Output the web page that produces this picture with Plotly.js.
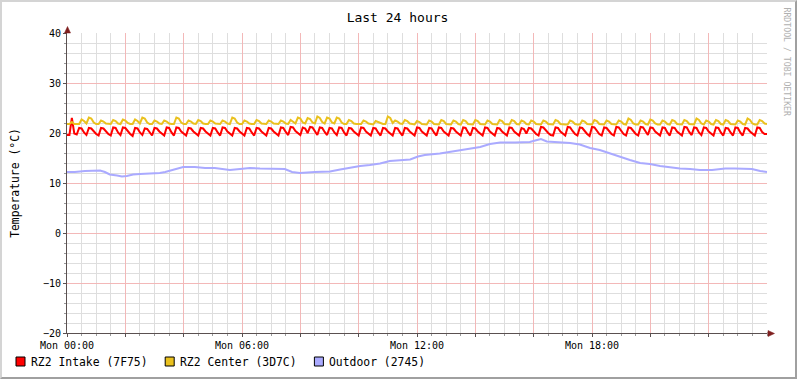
<!DOCTYPE html>
<html><head><meta charset="utf-8">
<script src="https://cdn.plot.ly/plotly-3.0.1.min.js"></script>
<style>
html,body{margin:0;padding:0;background:#fff;}
#frame{width:793px;height:375px;border-style:solid;border-width:2px;border-color:#d4d4d4 #a0a0a0 #a0a0a0 #d4d4d4;}
#chart{width:793px;height:375px;}
</style></head><body><div id="frame"><div id="chart"></div></div>
<script>
// ---- data: 5-minute samples from Mon 00:00, values in °C ----
const seriesNames = ["RZ2 Intake (7F75)", "RZ2 Center (3D7C)", "Outdoor (2745)"];
const seriesColors = ["#ff0000", "#eac11e", "#aaaaff"];
const xTickLabels = ["Mon 00:00", "Mon 06:00", "Mon 12:00", "Mon 18:00"];
const xTickMinutes = [0, 360, 720, 1080];
const sampleMinutes = 5;

const intake = [
 19.6,19.6,23.0,19.9,19.7,21.0,20.9,20.1,19.6,21.0,
 20.9,20.3,19.8,19.5,21.0,20.9,20.3,19.8,19.5,21.1,
 21.0,20.1,19.6,21.1,21.0,20.3,19.8,19.4,21.0,20.9,
 20.1,19.6,20.9,20.8,20.1,19.5,21.0,20.9,20.3,19.8,
 19.5,21.1,21.0,20.1,19.5,21.1,21.0,20.3,19.8,19.5,
 21.0,20.9,20.3,19.8,19.5,21.0,20.9,20.3,19.8,19.5,
 21.0,20.9,20.1,19.5,21.1,21.0,20.3,19.8,19.5,21.0,
 20.9,20.3,19.8,19.5,21.0,20.9,20.1,19.5,21.0,20.9,
 20.3,19.8,19.5,21.0,20.9,20.3,19.8,19.5,21.1,21.0,
 20.2,19.6,21.2,21.1,20.4,19.9,19.6,21.1,20.9,20.0,
 21.2,21.1,20.2,19.6,21.1,21.0,20.2,19.6,21.0,20.9,
 20.1,19.6,21.1,21.0,20.1,19.5,21.0,20.9,20.3,19.8,
 19.5,21.1,21.0,20.3,19.8,19.5,21.0,20.9,20.1,19.5,
 21.0,20.9,20.3,19.8,19.5,21.0,20.9,20.1,19.5,21.0,
 20.9,20.3,19.8,19.5,21.1,21.0,20.3,19.8,19.5,21.0,
 20.9,20.1,19.5,21.1,21.0,20.3,19.8,19.5,21.0,20.9,
 20.3,19.8,19.5,21.1,21.0,20.1,19.5,21.0,20.9,20.3,
 19.8,19.5,21.1,21.0,20.3,19.8,19.5,21.0,20.9,20.3,
 19.8,19.5,21.1,21.0,20.3,19.8,19.5,21.0,20.8,19.9,
 21.0,20.9,20.3,19.8,19.5,21.2,21.1,20.5,20.0,19.6,
 19.5,21.1,21.0,20.3,19.8,19.5,21.2,21.1,20.4,19.8,
 19.5,21.1,21.0,20.3,19.8,19.4,21.2,21.1,20.4,19.8,
 19.5,21.1,21.0,20.3,19.8,19.5,21.2,21.1,20.4,19.8,
 19.5,21.1,21.0,20.3,19.8,19.5,21.2,21.1,20.2,19.6,
 21.1,21.0,20.3,19.8,19.5,21.1,21.0,20.1,19.5,21.1,
 21.0,20.3,19.8,19.5,21.2,21.1,20.2,19.6,21.1,21.0,
 20.1,19.6,21.1,21.0,20.3,19.8,19.5,21.1,21.0,20.1,
 19.5,21.0,20.9,20.1,19.5,21.1,21.0,20.1,19.5,21.0,
 20.9,20.3,19.8,19.5,21.1,21.0,20.2,19.8,19.8];

const center = [
 21.8,21.8,22.2,21.8,21.8,21.8,22.7,22.4,21.9,23.1,
 22.9,22.1,21.8,21.8,22.5,22.3,21.9,21.8,21.8,22.6,
 22.4,21.9,21.8,22.7,22.5,22.0,21.8,21.8,22.7,22.4,
 21.9,23.1,22.9,22.1,21.8,21.8,22.5,22.3,21.9,21.8,
 22.5,22.3,21.9,21.8,21.8,23.1,22.9,22.1,21.8,21.8,
 22.5,22.3,21.9,21.8,22.6,22.4,21.9,21.8,21.8,22.5,
 22.3,21.9,21.8,21.8,22.5,22.3,21.9,21.8,23.1,22.9,
 22.1,21.8,21.8,22.5,22.3,21.9,21.8,21.8,22.6,22.4,
 21.9,21.8,21.8,22.5,22.3,21.9,21.8,21.8,22.5,22.3,
 21.9,21.8,22.6,22.3,21.9,23.1,22.9,22.1,21.9,23.0,
 22.8,22.1,21.9,23.3,23.0,22.2,21.9,23.1,22.9,22.1,
 21.9,23.1,22.9,22.1,21.8,21.8,22.6,22.4,21.9,21.8,
 21.8,21.8,22.5,22.3,21.9,21.8,21.7,22.4,22.2,21.9,
 21.8,21.8,23.3,23.0,22.0,22.5,22.3,21.9,21.8,22.6,
 22.4,21.9,21.8,21.7,22.4,22.2,21.8,21.7,21.7,22.5,
 22.3,21.8,21.7,21.7,22.6,22.4,21.8,21.7,21.7,22.5,
 22.3,21.8,21.7,22.6,22.4,21.8,21.7,21.7,22.6,22.4,
 21.8,21.7,21.7,22.5,22.3,21.8,21.7,21.7,22.6,22.4,
 21.8,21.7,21.7,22.6,22.4,21.8,21.7,22.5,22.3,21.8,
 21.7,22.5,22.3,21.8,21.7,21.7,22.5,22.3,21.8,21.7,
 21.7,22.6,22.4,21.8,21.7,21.7,21.7,22.5,22.3,21.8,
 21.7,21.7,22.5,22.3,21.8,21.7,21.7,22.6,22.4,21.8,
 21.7,21.7,22.5,22.3,21.8,21.7,21.7,22.5,22.3,21.8,
 21.7,22.9,22.6,21.9,21.7,21.7,22.5,22.3,21.8,21.7,
 22.7,22.5,21.9,21.7,21.7,22.5,22.3,21.8,21.7,22.6,
 22.4,21.8,21.7,21.7,22.6,22.4,21.8,21.7,21.7,22.9,
 22.6,21.9,21.7,22.5,22.3,21.8,21.7,22.6,22.4,21.8,
 21.7,22.6,22.4,21.8,21.7,21.7,22.5,22.3,21.8,21.7,
 22.9,22.6,21.9,21.7,21.7,22.6,22.4,21.9,21.8];

const outdoorT = [0,16,37,58,68,78,88,103,113,123,136,150,171,191,202,216,228,239,263,284,304,319,335,356,376,397,418,
 448,463,479,510,541,562,582,603,623,644,664,685,706,722,736,767,788,808,829,850,870,891,922,952,967,975,987,
 1014,1035,1055,1076,1096,1117,1138,1158,1179,1199,1220,1241,1261,1282,1302,1327,1354,1374,1395,1409,1426,1440];
const outdoor = [12.2,12.2,12.4,12.5,12.5,12.2,11.7,11.5,11.3,11.4,11.7,11.8,11.9,12.0,12.2,12.6,12.9,13.2,13.2,13.0,13.0,12.8,12.6,12.8,13.0,12.9,12.8,
 12.8,12.2,12.0,12.2,12.3,12.7,13.1,13.4,13.6,13.9,14.4,14.5,14.7,15.3,15.6,15.9,16.2,16.6,16.9,17.2,17.8,18.1,18.1,18.2,18.6,18.8,18.3,
 18.2,18.0,17.7,17.0,16.6,15.9,15.2,14.6,14.0,13.8,13.4,13.1,12.9,12.8,12.6,12.6,12.9,12.9,12.8,12.8,12.4,12.2];

// ---- layout helpers (page pixels -> paper coords of the plot area) ----
const FONT = "DejaVu Sans Mono";
const PL = 67, PW = 700, PT = 33, PH = 300;
const px = x => (x - PL) / PW;
const py = y => 1 - (y - PT) / PH;
const AXIS = "#5a5050", ARROW = "#7f1f1f";

const sampleT = intake.map((_, i) => i * sampleMinutes);
const seriesT = [sampleT, center.map((_, i) => i * sampleMinutes), outdoorT];
const seriesV = [intake, center, outdoor];
const traces = seriesNames.map((n, i) => ({
  type: "scatter", mode: "lines", name: n, x: seriesT[i], y: seriesV[i],
  line: {color: seriesColors[i], width: 2}, showlegend: false, hoverinfo: "skip"
}));

const majorVals = [];
for (let m = 0; m < 1440; m += 120) majorVals.push(m);
const majorText = majorVals.map(v => { const k = xTickMinutes.indexOf(v); return k >= 0 ? xTickLabels[k] : ""; });

const shapes = [
  {type: "line", xref: "paper", yref: "paper", x0: 0, x1: 0, y0: 1, y1: py(29), line: {color: AXIS, width: 1}},
  {type: "path", xref: "paper", yref: "paper", path: `M ${px(64.5)},${py(33)} L ${px(70.5)},${py(33)} L ${px(67.5)},${py(26.5)} Z`, fillcolor: ARROW, line: {color: ARROW, width: 0.5}},
  {type: "line", xref: "paper", yref: "paper", x0: 1, x1: px(770), y0: 0, y1: 0, line: {color: AXIS, width: 1}},
  {type: "path", xref: "paper", yref: "paper", path: `M ${px(768)},${py(330.5)} L ${px(768)},${py(336.5)} L ${px(774.5)},${py(333.5)} Z`, fillcolor: ARROW, line: {color: ARROW, width: 0.5}}
];
const annotations = [
  {text: "RRDTOOL / TOBI OETIKER", xref: "paper", yref: "paper", x: px(787), y: py(62.5), xanchor: "center", yanchor: "middle",
   showarrow: false, textangle: 90, font: {family: FONT, size: 8.2, color: "#b0b0b0"}}
];
seriesNames.forEach((n, i) => {
  const x0 = 16 + i * 149.2;
  shapes.push({type: "rect", xref: "paper", yref: "paper", x0: px(x0), x1: px(x0 + 9), y0: py(366), y1: py(357),
    fillcolor: seriesColors[i], line: {color: "#000", width: 1}});
  annotations.push({text: n, xref: "paper", yref: "paper", x: px(x0 + 12.5), y: py(361.5), xanchor: "left", yanchor: "middle",
    showarrow: false, font: {family: FONT, size: 11.4, color: "#000"}});
});

const layout = {
  width: 793, height: 375,
  margin: {l: 65, r: 28, t: 31, b: 44},
  paper_bgcolor: "#ffffff", plot_bgcolor: "#ffffff",
  font: {family: FONT, color: "#000"},
  hovermode: false,
  title: {text: "Last 24 hours", font: {family: FONT, size: 13, color: "#000"}, x: 395.5 / 793, xanchor: "center",
    xref: "container", yref: "container", y: 1 - 15 / 375, yanchor: "middle"},
  xaxis: {range: [0, 1440], tickmode: "array", tickvals: majorVals, ticktext: majorText,
    showgrid: true, gridcolor: "#f3b8b8", gridwidth: 1, zeroline: false,
    showline: true, linecolor: AXIS, linewidth: 1, ticks: "outside", ticklen: 3, tickcolor: AXIS,
    tickfont: {family: FONT, size: 10, color: "#000"},
    minor: {dtick: 30, tick0: 0, showgrid: true, gridcolor: "#dedede", gridwidth: 1, ticks: "outside", ticklen: 2, tickcolor: "#9a9a9a"},
    fixedrange: true},
  yaxis: {range: [-20, 40], tickmode: "linear", tick0: 0, dtick: 10,
    showgrid: true, gridcolor: "#f3b8b8", gridwidth: 1, zeroline: false,
    showline: true, linecolor: AXIS, linewidth: 1, ticks: "outside", ticklen: 3, tickcolor: AXIS,
    tickfont: {family: FONT, size: 10, color: "#000"},
    minor: {dtick: 2, tick0: 0, showgrid: true, gridcolor: "#dedede", gridwidth: 1, ticks: "outside", ticklen: 2, tickcolor: "#9a9a9a"},
    title: {text: "Temperature (°C)", font: {family: FONT, size: 11.4, color: "#000"}, standoff: 20},
    fixedrange: true},
  shapes: shapes,
  annotations: annotations,
  showlegend: false
};

Plotly.newPlot("chart", traces, layout, {displayModeBar: false, staticPlot: true});
</script></body></html>
